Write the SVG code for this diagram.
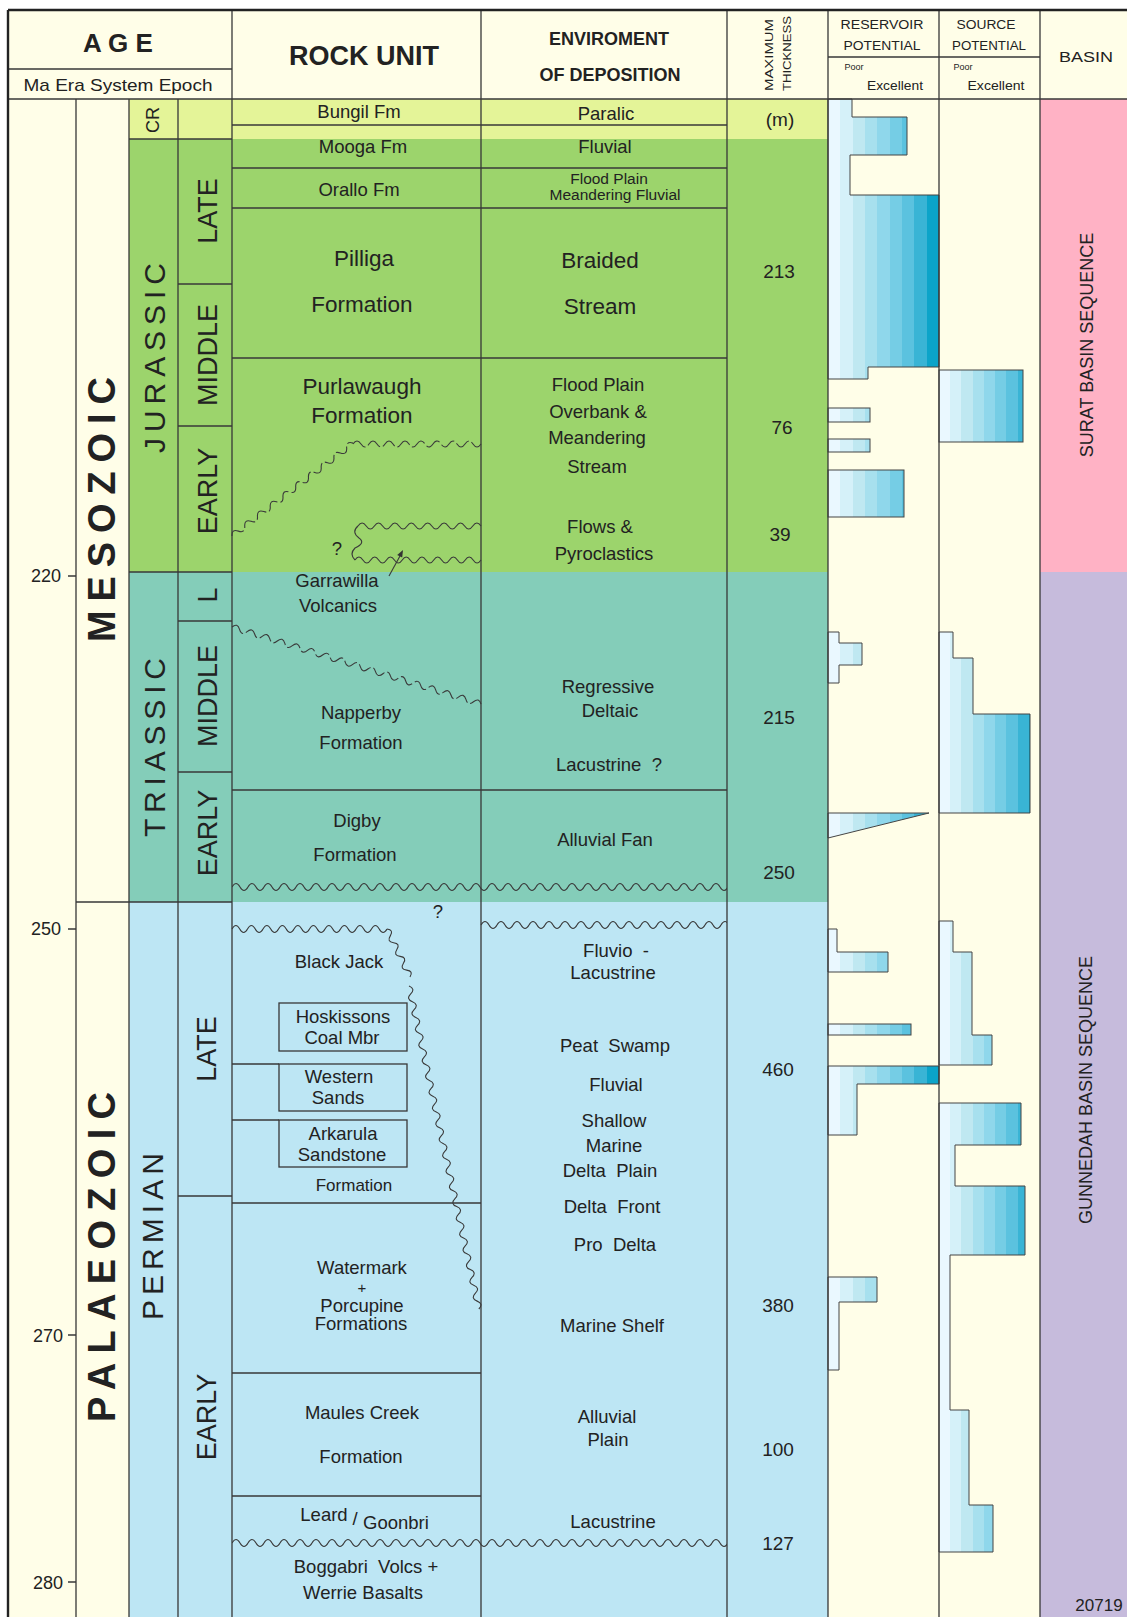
<svg xmlns="http://www.w3.org/2000/svg" width="1127" height="1617" viewBox="0 0 1127 1617">
<defs>
<style>
text{font-family:'Liberation Sans',Arial,Helvetica,sans-serif;fill:#222}
.c{text-anchor:middle}
.r{font-size:18.5px}
.b{font-size:22.5px}
.s{font-size:15.5px}
.n{font-size:19px}
.ep{font-size:27px}
.sy{font-size:30px}
.er{font-size:38px;font-weight:bold}
.hb{font-weight:bold}
.ln{stroke:#383838;stroke-width:1.3;fill:none}
.bd{stroke:#222;stroke-width:2.4;fill:none}
.wv{stroke:#3a3a3a;stroke-width:1.1;fill:none}
.dw{stroke:#3a3a3a;stroke-width:1.1;fill:none;stroke-dasharray:16 3}
.bar{stroke:#454545;stroke-width:1}
</style>
<clipPath id="cr"><rect x="232" y="0" width="495" height="1617"/></clipPath>
<linearGradient id="gr" gradientUnits="userSpaceOnUse" x1="828" y1="0" x2="939" y2="0">
<stop offset="0" stop-color="#eaf8ff"/><stop offset=".111" stop-color="#eaf8ff"/>
<stop offset=".111" stop-color="#d5f1f9"/><stop offset=".222" stop-color="#d5f1f9"/>
<stop offset=".222" stop-color="#bfe8f1"/><stop offset=".333" stop-color="#bfe8f1"/>
<stop offset=".333" stop-color="#a7e0ee"/><stop offset=".444" stop-color="#a7e0ee"/>
<stop offset=".444" stop-color="#8fd7eb"/><stop offset=".556" stop-color="#8fd7eb"/>
<stop offset=".556" stop-color="#75cde5"/><stop offset=".667" stop-color="#75cde5"/>
<stop offset=".667" stop-color="#5bc2df"/><stop offset=".778" stop-color="#5bc2df"/>
<stop offset=".778" stop-color="#39b4d5"/><stop offset=".889" stop-color="#39b4d5"/>
<stop offset=".889" stop-color="#0ba4c9"/><stop offset="1" stop-color="#0ba4c9"/>
</linearGradient>
<linearGradient id="gs" gradientUnits="userSpaceOnUse" x1="939" y1="0" x2="1040" y2="0">
<stop offset="0" stop-color="#eaf8ff"/><stop offset=".111" stop-color="#eaf8ff"/>
<stop offset=".111" stop-color="#d5f1f9"/><stop offset=".222" stop-color="#d5f1f9"/>
<stop offset=".222" stop-color="#bfe8f1"/><stop offset=".333" stop-color="#bfe8f1"/>
<stop offset=".333" stop-color="#a7e0ee"/><stop offset=".444" stop-color="#a7e0ee"/>
<stop offset=".444" stop-color="#8fd7eb"/><stop offset=".556" stop-color="#8fd7eb"/>
<stop offset=".556" stop-color="#75cde5"/><stop offset=".667" stop-color="#75cde5"/>
<stop offset=".667" stop-color="#5bc2df"/><stop offset=".778" stop-color="#5bc2df"/>
<stop offset=".778" stop-color="#39b4d5"/><stop offset=".889" stop-color="#39b4d5"/>
<stop offset=".889" stop-color="#0ba4c9"/><stop offset="1" stop-color="#0ba4c9"/>
</linearGradient>
</defs>

<g id="backgrounds">
<rect width="1127" height="1617" fill="#fff"/>
<rect x="8" y="10" width="1119" height="1607" fill="#fffee8"/>
<rect x="129" y="99" width="699" height="40" fill="#e4f498"/>
<rect x="129" y="139" width="699" height="433" fill="#9cd46c"/>
<rect x="129" y="572" width="699" height="330" fill="#84cdb9"/>
<rect x="129" y="902" width="699" height="715" fill="#bde6f4"/>
<rect x="1040" y="99" width="87" height="473" fill="#ffb2c5"/>
<rect x="1040" y="572" width="87" height="1045" fill="#c6bbdc"/>
</g>

<g id="reservoir">
<polygon class="bar" fill="url(#gr)" points="828,99 852,99 852,117 907,117 907,155 850,155 850,195 939,195 939,367 868,367 868,379 828,379"/>
<rect class="bar" fill="url(#gr)" x="828" y="408" width="42" height="14"/>
<rect class="bar" fill="url(#gr)" x="828" y="439" width="42" height="13"/>
<rect class="bar" fill="url(#gr)" x="828" y="470" width="76" height="47"/>
<polygon class="bar" fill="url(#gr)" points="828,632 839,632 839,643 862,643 862,665 839,665 839,683 828,683"/>
<polygon class="bar" fill="url(#gr)" points="828,813 929,813 828,838"/>
<polygon class="bar" fill="url(#gr)" points="828,929 837,929 837,952 888,952 888,972 828,972"/>
<rect class="bar" fill="url(#gr)" x="828" y="1024" width="83" height="11"/>
<polygon class="bar" fill="url(#gr)" points="828,1066 939,1066 939,1084 857,1084 857,1135 828,1135"/>
<polygon class="bar" fill="url(#gr)" points="828,1277 877,1277 877,1302 839,1302 839,1370 828,1370"/>
</g>

<g id="source">
<rect class="bar" fill="url(#gs)" x="939" y="370" width="84" height="72"/>
<polygon class="bar" fill="url(#gs)" points="939,632 953,632 953,658 973,658 973,714 1030,714 1030,813 939,813"/>
<polygon class="bar" fill="url(#gs)" points="939,921 953,921 953,952 972,952 972,1035 992,1035 992,1065 939,1065"/>
<polygon class="bar" fill="url(#gs)" points="939,1103 1021,1103 1021,1145 955,1145 955,1186 1025,1186 1025,1255 950,1255 950,1410 969,1410 969,1505 993,1505 993,1552 939,1552"/>
</g>

<g id="grid">
<path class="ln" d="M76,99V1617 M129,99V1617 M178,99V1617 M232,10V1617 M481,10V1617 M727,10V1617 M828,10V1617 M939,10V1617 M1040,10V1617"/>
<path class="ln" d="M8,69H232 M8,99H1127 M828,57H1040 M129,139H232 M178,284H232 M178,426H232 M129,572H232 M178,621H232 M178,772H232 M76,902H232 M178,1196H232"/>
<path class="ln" d="M232,125H727 M232,168H727 M232,208H727 M232,358H727 M232,790H727 M232,1203H481 M232,1373H481 M232,1496H481 M232,1064H279 M232,1120H279"/>
<path class="ln" d="M68,576H76 M68,929H76 M68,1335H76 M68,1582H76"/>
<rect class="ln" x="279" y="1003" width="128" height="48"/>
<rect class="ln" x="279" y="1064" width="128" height="47"/>
<rect class="ln" x="279" y="1120" width="128" height="47"/>
<path class="bd" d="M8,10H1127 M8,10V1617"/>
</g>

<g id="boundaries">
<path class="wv" clip-path="url(#cr)" d="M232,887q4,-7 8,0t8,0 t8,0 t8,0 t8,0 t8,0 t8,0 t8,0 t8,0 t8,0 t8,0 t8,0 t8,0 t8,0 t8,0 t8,0 t8,0 t8,0 t8,0 t8,0 t8,0 t8,0 t8,0 t8,0 t8,0 t8,0 t8,0 t8,0 t8,0 t8,0 t8,0 t8,0 t8,0 t8,0 t8,0 t8,0 t8,0 t8,0 t8,0 t8,0 t8,0 t8,0 t8,0 t8,0 t8,0 t8,0 t8,0 t8,0 t8,0 t8,0 t8,0 t8,0 t8,0 t8,0 t8,0 t8,0 t8,0 t8,0 t8,0 t8,0 t8,0 t8,0 t8,0 t8,0 t8,0"/>
<path class="wv" clip-path="url(#cr)" d="M232,1543q4,-7 8,0t8,0 t8,0 t8,0 t8,0 t8,0 t8,0 t8,0 t8,0 t8,0 t8,0 t8,0 t8,0 t8,0 t8,0 t8,0 t8,0 t8,0 t8,0 t8,0 t8,0 t8,0 t8,0 t8,0 t8,0 t8,0 t8,0 t8,0 t8,0 t8,0 t8,0 t8,0 t8,0 t8,0 t8,0 t8,0 t8,0 t8,0 t8,0 t8,0 t8,0 t8,0 t8,0 t8,0 t8,0 t8,0 t8,0 t8,0 t8,0 t8,0 t8,0 t8,0 t8,0 t8,0 t8,0 t8,0 t8,0 t8,0 t8,0 t8,0 t8,0 t8,0 t8,0 t8,0 t8,0"/>
<path class="wv" clip-path="url(#cr)" d="M481,925q4,-7 8,0 t8,0 t8,0 t8,0 t8,0 t8,0 t8,0 t8,0 t8,0 t8,0 t8,0 t8,0 t8,0 t8,0 t8,0 t8,0 t8,0 t8,0 t8,0 t8,0 t8,0 t8,0 t8,0 t8,0 t8,0 t8,0 t8,0 t8,0 t8,0 t8,0 t8,0 t8,0 t8,0 t8,0"/>
<path class="wv" d="M232,929q3.875,-7 7.75,0 t7.75,0 t7.75,0 t7.75,0 t7.75,0 t7.75,0 t7.75,0 t7.75,0 t7.75,0 t7.75,0 t7.75,0 t7.75,0 t7.75,0 t7.75,0 t7.75,0 t7.75,0 t7.75,0 t7.75,0 t7.75,0 t7.75,0"/>
<path class="wv" transform="translate(387,929) rotate(64.4)" d="M0,0q3.8,-6 7.6,0t7.6,0 t7.6,0 t7.6,0 t7.6,0 t7.6,0 t7.6,0"/>
<path class="wv" transform="translate(409,986) rotate(77.8)" d="M0,0q4.03,-6 8.06,0t8.06,0 t8.06,0 t8.06,0 t8.06,0 t8.06,0 t8.06,0 t8.06,0 t8.06,0 t8.06,0 t8.06,0 t8.06,0 t8.06,0 t8.06,0 t8.06,0 t8.06,0 t8.06,0 t8.06,0 t8.06,0 t8.06,0 t8.06,0 t8.06,0 t8.06,0 t8.06,0 t8.06,0 t8.06,0 t8.06,0 t8.06,0 t8.06,0 t8.06,0 t8.06,0 t8.06,0 t8.06,0 t8.06,0 t8.06,0 t8.06,0 t8.06,0 t8.06,0 t8.06,0 t8.06,0 t8.06,0"/>
<path class="dw" transform="translate(232,627) rotate(17.2)" d="M0,0q3.95,-6 7.9,0t7.9,0 t7.9,0 t7.9,0 t7.9,0 t7.9,0 t7.9,0 t7.9,0 t7.9,0 t7.9,0 t7.9,0 t7.9,0 t7.9,0 t7.9,0 t7.9,0 t7.9,0 t7.9,0 t7.9,0 t7.9,0 t7.9,0 t7.9,0 t7.9,0 t7.9,0 t7.9,0 t7.9,0 t7.9,0 t7.9,0 t7.9,0 t7.9,0 t7.9,0 t7.9,0 t7.9,0 t7.9,0"/>
<path class="dw" transform="translate(232,536) rotate(-37.5)" d="M0,0q4.02,-6 8.03,0t8.03,0 t8.03,0 t8.03,0 t8.03,0 t8.03,0 t8.03,0 t8.03,0 t8.03,0 t8.03,0 t8.03,0 t8.03,0 t8.03,0 t8.03,0 t8.03,0 t8.03,0 t8.03,0 t8.03,0 t8.03,0"/>
<path class="dw" d="M353,444q4,-6 8,0t8,0 t8,0 t8,0 t8,0 t8,0 t8,0 t8,0 t8,0 t8,0 t8,0 t8,0 t8,0 t8,0 t8,0 t8,0"/>
<path class="wv" d="M358,526q4.1,-6 8.2,0t8.2,0 t8.2,0 t8.2,0 t8.2,0 t8.2,0 t8.2,0 t8.2,0 t8.2,0 t8.2,0 t8.2,0 t8.2,0 t8.2,0 t8.2,0 t8.2,0"/>
<path class="wv" d="M355,560q3.94,-6 7.875,0t7.875,0 t7.875,0 t7.875,0 t7.875,0 t7.875,0 t7.875,0 t7.875,0 t7.875,0 t7.875,0 t7.875,0 t7.875,0 t7.875,0 t7.875,0 t7.875,0 t7.875,0"/>
<path class="wv" d="M358,526q-7,6 1,12q7,5 -4,10q-6,6 0,12"/>
<path class="wv" d="M389,576L400,556"/>
<polygon fill="#333" points="403,550 397.2,554.9 402.2,557.5"/>
</g>

<g id="header">
<text x="118" y="52" class="c hb" font-size="26">A G E</text>
<text x="118" y="91" class="c" font-size="17" textLength="189" lengthAdjust="spacingAndGlyphs">Ma Era System Epoch</text>
<text x="364" y="65" class="c hb" font-size="27">ROCK UNIT</text>
<text x="609" y="45" class="c hb" font-size="18">ENVIROMENT</text>
<text x="610" y="81" class="c hb" font-size="18">OF DEPOSITION</text>
<text x="769" y="94.6" font-size="10" transform="rotate(-90 769 91)" textLength="72" lengthAdjust="spacingAndGlyphs">MAXIMUM</text>
<text x="787" y="94.6" font-size="10" transform="rotate(-90 787 91)" textLength="75" lengthAdjust="spacingAndGlyphs">THICKNESS</text>
<text x="882" y="28.5" class="c" font-size="12" textLength="83" lengthAdjust="spacingAndGlyphs">RESERVOIR</text>
<text x="882" y="49.5" class="c" font-size="12" textLength="77" lengthAdjust="spacingAndGlyphs">POTENTIAL</text>
<text x="986" y="28.5" class="c" font-size="12" textLength="59" lengthAdjust="spacingAndGlyphs">SOURCE</text>
<text x="989" y="49.5" class="c" font-size="12" textLength="74" lengthAdjust="spacingAndGlyphs">POTENTIAL</text>
<text x="854" y="70" class="c" font-size="9">Poor</text>
<text x="895" y="89.5" class="c" font-size="12" textLength="56" lengthAdjust="spacingAndGlyphs">Excellent</text>
<text x="963" y="70" class="c" font-size="9">Poor</text>
<text x="996" y="89.5" class="c" font-size="12" textLength="57" lengthAdjust="spacingAndGlyphs">Excellent</text>
<text x="1086" y="62" class="c" font-size="14" textLength="54" lengthAdjust="spacingAndGlyphs">BASIN</text>
</g>

<g id="age">
<text x="61" y="582" font-size="18" text-anchor="end">220</text>
<text x="61" y="935" font-size="18" text-anchor="end">250</text>
<text x="63" y="1342" font-size="18" text-anchor="end">270</text>
<text x="63" y="1589" font-size="18" text-anchor="end">280</text>
<text x="101" y="523" class="c er" transform="rotate(-90 101 509.5)" textLength="265" lengthAdjust="spacing">MESOZOIC</text>
<text x="101" y="1270.6" class="c er" transform="rotate(-90 101 1257)" textLength="330" lengthAdjust="spacing">PALAEOZOIC</text>
<text x="152.5" y="126.4" class="c" font-size="18" transform="rotate(-90 152.5 120)">CR</text>
<text x="154" y="368.7" class="c sy" transform="rotate(-90 154 358)" textLength="190" lengthAdjust="spacing">JURASSIC</text>
<text x="154" y="758.2" class="c sy" transform="rotate(-90 154 747.5)" textLength="179" lengthAdjust="spacing">TRIASSIC</text>
<text x="152" y="1247.2" class="c sy" transform="rotate(-90 152 1236.5)" textLength="167" lengthAdjust="spacing">PERMIAN</text>
<text x="207.5" y="220.7" class="c ep" transform="rotate(-90 207.5 211)">LATE</text>
<text x="207" y="364.7" class="c ep" transform="rotate(-90 207 355)">MIDDLE</text>
<text x="207" y="500.7" class="c ep" transform="rotate(-90 207 491)">EARLY</text>
<text x="207" y="604.7" class="c ep" transform="rotate(-90 207 595)">L</text>
<text x="207" y="705.7" class="c ep" transform="rotate(-90 207 696)">MIDDLE</text>
<text x="207" y="842.7" class="c ep" transform="rotate(-90 207 833)">EARLY</text>
<text x="206" y="1058.7" class="c ep" transform="rotate(-90 206 1049)">LATE</text>
<text x="206" y="1426.7" class="c ep" transform="rotate(-90 206 1417)">EARLY</text>
</g>

<g id="rock-units">
<text x="359" y="117.5" class="c r">Bungil Fm</text>
<text x="363" y="153" class="c r">Mooga Fm</text>
<text x="359" y="196" class="c r">Orallo Fm</text>
<text x="364" y="266" class="c b">Pilliga</text>
<text x="362" y="312" class="c b">Formation</text>
<text x="362" y="394" class="c b">Purlawaugh</text>
<text x="362" y="423" class="c b">Formation</text>
<text x="337" y="555" class="c r">?</text>
<text x="337" y="587" class="c r">Garrawilla</text>
<text x="338" y="612" class="c r">Volcanics</text>
<text x="361" y="719" class="c r">Napperby</text>
<text x="361" y="749" class="c r">Formation</text>
<text x="357" y="827" class="c r">Digby</text>
<text x="355" y="861" class="c r">Formation</text>
<text x="438" y="918" class="c r">?</text>
<text x="339" y="968" class="c r">Black Jack</text>
<text x="343" y="1023" class="c r">Hoskissons</text>
<text x="342" y="1044" class="c r">Coal Mbr</text>
<text x="339" y="1083" class="c r">Western</text>
<text x="338" y="1104" class="c r">Sands</text>
<text x="343" y="1140" class="c r">Arkarula</text>
<text x="342" y="1161" class="c r">Sandstone</text>
<text x="354" y="1191" class="c" font-size="17">Formation</text>
<text x="362" y="1274" class="c r">Watermark</text>
<text x="362" y="1293" class="c" font-size="15">+</text>
<text x="362" y="1312" class="c r">Porcupine</text>
<text x="361" y="1330" class="c r">Formations</text>
<text x="362" y="1419" class="c r">Maules Creek</text>
<text x="361" y="1463" class="c r">Formation</text>
<text x="324" y="1521" class="c r">Leard</text>
<text x="355" y="1525" class="c r">/</text>
<text x="396" y="1529" class="c r">Goonbri</text>
<text x="366" y="1573" class="c r" xml:space="preserve">Boggabri  Volcs +</text>
<text x="363" y="1599" class="c r">Werrie Basalts</text>
</g>

<g id="environments">
<text x="606" y="120" class="c r">Paralic</text>
<text x="605" y="153" class="c r">Fluvial</text>
<text x="609" y="184" class="c s">Flood Plain</text>
<text x="615" y="200" class="c s">Meandering Fluvial</text>
<text x="600" y="268" class="c b">Braided</text>
<text x="600" y="314" class="c b">Stream</text>
<text x="598" y="391" class="c r">Flood Plain</text>
<text x="598" y="418" class="c r">Overbank &amp;</text>
<text x="597" y="444" class="c r">Meandering</text>
<text x="597" y="473" class="c r">Stream</text>
<text x="600" y="533" class="c r">Flows &amp;</text>
<text x="604" y="560" class="c r">Pyroclastics</text>
<text x="608" y="693" class="c r">Regressive</text>
<text x="610" y="717" class="c r">Deltaic</text>
<text x="609" y="771" class="c r" xml:space="preserve">Lacustrine  ?</text>
<text x="605" y="846" class="c r">Alluvial Fan</text>
<text x="616" y="957" class="c r" xml:space="preserve">Fluvio  -</text>
<text x="613" y="979" class="c r">Lacustrine</text>
<text x="615" y="1052" class="c r" xml:space="preserve">Peat  Swamp</text>
<text x="616" y="1091" class="c r">Fluvial</text>
<text x="614" y="1127" class="c r">Shallow</text>
<text x="614" y="1152" class="c r">Marine</text>
<text x="610" y="1177" class="c r" xml:space="preserve">Delta  Plain</text>
<text x="612" y="1213" class="c r" xml:space="preserve">Delta  Front</text>
<text x="615" y="1251" class="c r" xml:space="preserve">Pro  Delta</text>
<text x="612" y="1332" class="c r">Marine Shelf</text>
<text x="607" y="1423" class="c r">Alluvial</text>
<text x="608" y="1446" class="c r">Plain</text>
<text x="613" y="1528" class="c r">Lacustrine</text>
</g>

<g id="thickness">
<text x="780" y="126" class="c n">(m)</text>
<text x="779" y="278" class="c n">213</text>
<text x="782" y="434" class="c n">76</text>
<text x="780" y="541" class="c n">39</text>
<text x="779" y="724" class="c n">215</text>
<text x="779" y="879" class="c n">250</text>
<text x="778" y="1076" class="c n">460</text>
<text x="778" y="1312" class="c n">380</text>
<text x="778" y="1456" class="c n">100</text>
<text x="778" y="1550" class="c n">127</text>
</g>

<g id="basin">
<text x="1087" y="351.4" class="c" font-size="18" transform="rotate(-90 1087 345)">SURAT BASIN SEQUENCE</text>
<text x="1086" y="1096.4" class="c" font-size="18" transform="rotate(-90 1086 1090)">GUNNEDAH BASIN SEQUENCE</text>
<text x="1099" y="1611" class="c" font-size="17">20719</text>
</g>
</svg>
